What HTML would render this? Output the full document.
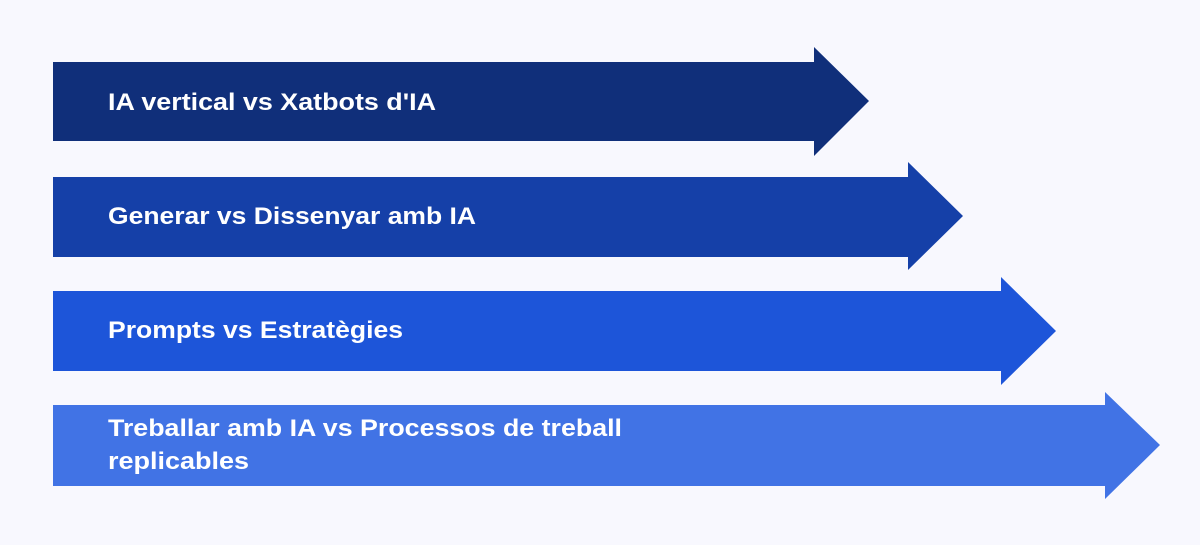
<!DOCTYPE html>
<html><head><meta charset="utf-8"><style>
body{margin:0;background:#f8f8fe;width:1200px;height:545px;overflow:hidden}
svg{display:block}
text{font-family:"Liberation Sans",sans-serif;font-weight:bold;font-size:24px;fill:#fff}
</style></head><body>
<svg width="1200" height="545" viewBox="0 0 1200 545">
<polygon points="53,62 814,62 814,47 869,101 814,156 814,141 53,141" fill="#102f7a"/>
<polygon points="53,177 908,177 908,162 963,216 908,270 908,257 53,257" fill="#1540a8"/>
<polygon points="53,291 1001,291 1001,277 1056,331 1001,385 1001,371 53,371" fill="#1d55d9"/>
<polygon points="53,405 1105,405 1105,392 1160,445 1105,499 1105,486 53,486" fill="#4173e5"/>
<text x="108" y="110" textLength="328" lengthAdjust="spacingAndGlyphs">IA vertical vs Xatbots d'IA</text>
<text x="108" y="224" textLength="368" lengthAdjust="spacingAndGlyphs">Generar vs Dissenyar amb IA</text>
<text x="108" y="338" textLength="295" lengthAdjust="spacingAndGlyphs">Prompts vs Estratègies</text>
<text x="108" y="436" textLength="514" lengthAdjust="spacingAndGlyphs">Treballar amb IA vs Processos de treball</text>
<text x="108" y="469" textLength="141" lengthAdjust="spacingAndGlyphs">replicables</text>
</svg>
</body></html>
